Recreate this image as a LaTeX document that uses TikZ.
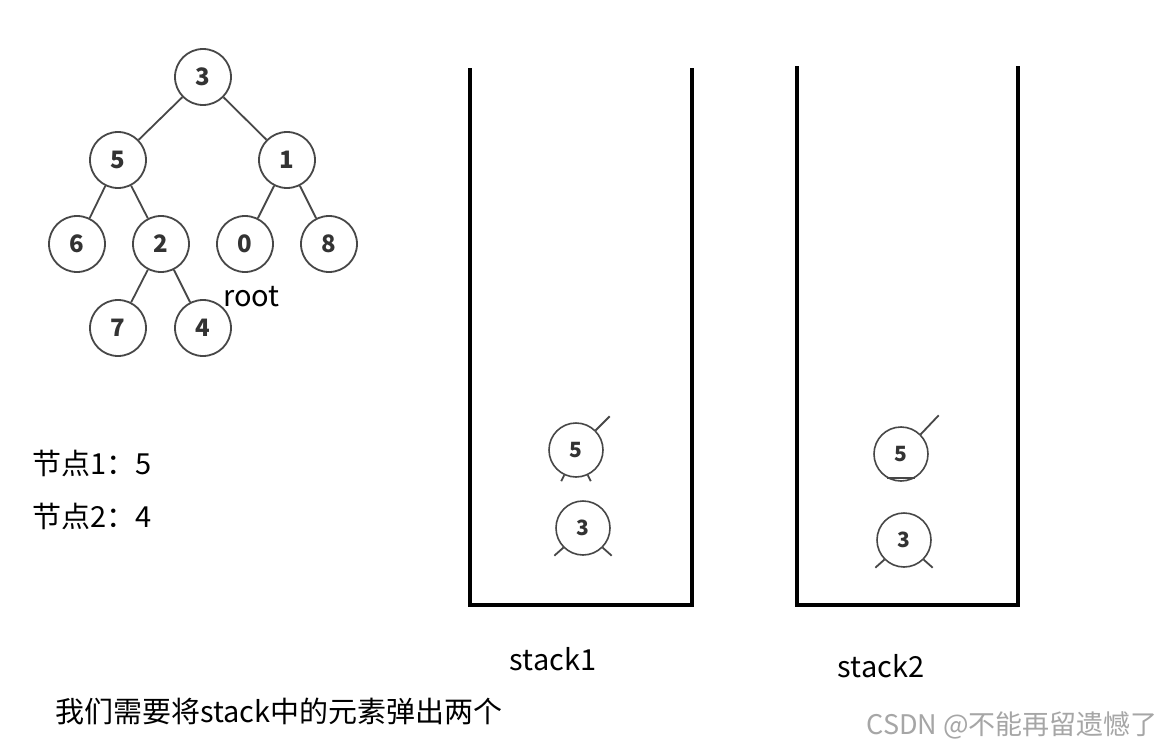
\documentclass[tikz,border=0pt]{standalone}
\usepackage{fontspec}
\setmainfont{Noto Sans CJK SC}
\usetikzlibrary{positioning}

\tikzset{
    treenode/.style={circle, draw=black!72, line width=1.8pt, minimum size=56pt, inner sep=0pt, text=black!80, font=\bfseries\fontsize{24}{26}\selectfont},
    stacknode/.style={circle, draw=black!72, line width=1.6pt, minimum size=54pt, inner sep=0pt, text=black!80, font=\bfseries\fontsize{21}{24}\selectfont},
    treeedge/.style={draw=black!72, line width=1.8pt},
    wall/.style={draw=black, line width=4.5pt, line cap=rect},
    label/.style={font=\fontsize{29}{32}\selectfont, inner sep=0pt}
}

\begin{document}
\begin{tikzpicture}[x=1pt, y=-1pt]
    % --- Canvas ---
    \useasboundingbox (0,0) rectangle (1167,752);
    \fill[white] (0,0) rectangle (1167,752);

    % --- Binary tree ---
    \node[treenode] (t3) at (203,77) {3};
    \node[treenode] (t5) at (118,160) {5};
    \node[treenode] (t1) at (287,160) {1};
    \node[treenode] (t6) at (77,244) {6};
    \node[treenode] (t2) at (161,244) {2};
    \node[treenode] (t0) at (245,244) {0};
    \node[treenode] (t8) at (329,244) {8};
    \node[treenode] (t7) at (118,328) {7};
    \node[treenode] (t4) at (203,328) {4};
    \foreach \a/\b in {t3/t5, t3/t1, t5/t6, t5/t2, t1/t0, t1/t8, t2/t7, t2/t4}
        \draw[treeedge] (\a) -- (\b);
    \node[label, anchor=west] (root) at (223,297) {root};

    % --- Node notes ---
    \node[label, anchor=west] (note1) at (32,463) {节点1：5};
    \node[label, anchor=west] (note2) at (32,516) {节点2：4};

    % --- Stack 1 ---
    \coordinate (s1tl) at (470,70);
    \coordinate (s1bl) at (470,605);
    \coordinate (s1br) at (692,605);
    \coordinate (s1tr) at (692,70);
    \draw[wall] (s1tl) -- (s1bl) -- (s1br) -- (s1tr);
    \node[stacknode] (s1five) at (576,450) {5};
    \node[stacknode] (s1three) at (583,528) {3};
    \draw[treeedge] (s1five.45) -- +(14,-14);
    \draw[treeedge] (s1five.-115) -- +(-3,6);
    \draw[treeedge] (s1five.-65) -- +(3,6);
    \draw[treeedge] (s1three.-135) -- +(-9,8);
    \draw[treeedge] (s1three.-45) -- +(9,8);
    \node[label] (stack1) at (553,659) {stack1};

    % --- Stack 2 ---
    \coordinate (s2tl) at (797,68);
    \coordinate (s2bl) at (797,605);
    \coordinate (s2br) at (1018,605);
    \coordinate (s2tr) at (1018,68);
    \draw[wall] (s2tl) -- (s2bl) -- (s2br) -- (s2tr);
    \node[stacknode] (s2five) at (901,454) {5};
    \node[stacknode] (s2three) at (904,540) {3};
    \draw[treeedge] (s2five.45) -- +(18,-19);
    \draw[treeedge] (s2five.-120) -- (s2five.-60);
    \draw[treeedge] (s2three.-135) -- +(-9,8);
    \draw[treeedge] (s2three.-45) -- +(9,8);
    \node[label] (stack2) at (881,666) {stack2};

    % --- Caption ---
    \node[label, anchor=west] (caption) at (55,711) {我们需要将stack中的元素弹出两个};
    \node[font=\fontsize{27}{30}\selectfont, text=black!35, anchor=east, inner sep=0pt] (mark) at (1158,725) {CSDN @不能再留遗憾了};

\end{tikzpicture}
\end{document}
